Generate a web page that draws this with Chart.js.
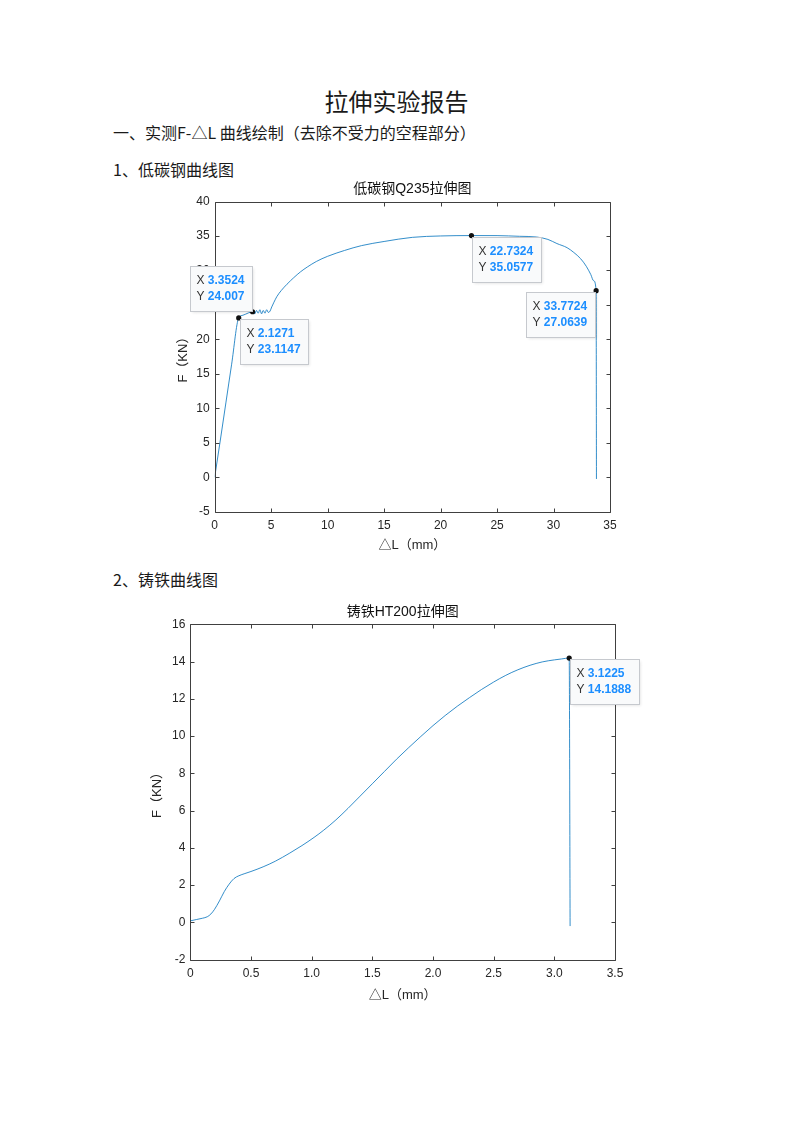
<!DOCTYPE html>
<html>
<head>
<meta charset="utf-8">
<script src="https://cdn.jsdelivr.net/npm/chart.js@4.4.1/dist/chart.umd.min.js"></script>
<style>
  body { margin: 0; background: #fff; }
  #page { position: relative; width: 793px; height: 1122px; font-family: "Noto Sans CJK SC", sans-serif; color: #1a1a1a; }
  .t { position: absolute; white-space: nowrap; }
  canvas { position: absolute; }
</style>
</head>
<body>
<div id="page">
  <div class="t" style="left:0;width:793px;text-align:center;top:86px;font-size:24px;line-height:30px;">拉伸实验报告</div>
  <div class="t" style="left:113px;top:122px;font-size:16px;line-height:20px;">一、实测F-△L 曲线绘制（去除不受力的空程部分）</div>
  <div class="t" style="left:113px;top:159px;font-size:16px;line-height:20px;">1、低碳钢曲线图</div>
  <div class="t" style="left:113px;top:569px;font-size:16px;line-height:20px;">2、铸铁曲线图</div>
  <canvas id="steel" width="490" height="380" style="left:150px;top:178px"></canvas>
  <canvas id="iron" width="515" height="410" style="left:130px;top:598px"></canvas>
</div>
<script>
// 低碳钢 Q235
const steelX = [0, 0.5, 1.0, 1.5, 2.1271, 2.5, 3.0, 3.3524, 3.55, 3.7, 3.85, 4.0, 4.15, 4.3, 4.45, 4.6, 4.75, 4.9,
  5.05, 5.25, 5.5, 5.9, 6.4, 7.0, 7.6, 8.2, 9.0, 10.0, 11.5, 13.0, 15.0, 17.5, 20.0, 22.7324, 25.0, 27.0, 28.5,
  29.5, 30.3, 31.2, 31.8, 32.4, 32.9, 33.3, 33.55, 33.7724, 33.8];
const steelY = [0, 5.4, 10.9, 16.4, 23.1147, 23.5, 23.85, 24.007, 23.7, 24.2, 23.8, 24.3, 23.7, 24.2, 23.8, 24.3, 23.9, 24.1,
  24.7, 25.4, 26.2, 27.1, 28.0, 28.95, 29.8, 30.5, 31.3, 32.05, 32.9, 33.6, 34.2, 34.8, 35.0, 35.0577, 35.05, 34.95, 34.85,
  34.5, 33.9, 33.3, 32.6, 31.7, 30.6, 29.4, 28.5, 27.0639, -0.25];
const steelTipX = [2.1271, 3.3524, 22.7324, 33.7724];
const steelTipY = [23.1147, 24.007, 35.0577, 27.0639];
const steelTipCorner = ['tl', 'br', 'tl', 'tr'];
const steelTicksX = [0, 5, 10, 15, 20, 25, 30, 35];
const steelTicksY = [-5, 0, 5, 10, 15, 20, 25, 30, 35, 40];

// 铸铁 HT200
const ironX = [0, 0.05, 0.1, 0.14, 0.17, 0.2, 0.24, 0.28, 0.32, 0.36, 0.4, 0.45, 0.5, 0.6, 0.7, 0.82, 0.92, 1.02,
  1.1, 1.2, 1.3, 1.4, 1.5, 1.6, 1.7, 1.8, 1.9, 2.0, 2.1, 2.2, 2.3, 2.4, 2.5, 2.6, 2.7, 2.8, 2.9, 3.0, 3.06,
  3.1225, 3.13];
const ironY = [0.08, 0.15, 0.22, 0.3, 0.45, 0.7, 1.15, 1.65, 2.05, 2.35, 2.5, 2.62, 2.73, 2.98, 3.28, 3.72, 4.12, 4.56,
  4.95, 5.5, 6.12, 6.78, 7.44, 8.1, 8.76, 9.38, 9.98, 10.56, 11.1, 11.6, 12.06, 12.5, 12.9, 13.26, 13.56, 13.8, 13.98, 14.09, 14.14,
  14.1888, -0.2];
const ironTipX = [3.1225];
const ironTipY = [14.1888];
const ironTipCorner = ['tl'];
const ironTicksX = [0, 0.5, 1, 1.5, 2, 2.5, 3, 3.5];
const ironTicksY = [-2, 0, 2, 4, 6, 8, 10, 12, 14, 16];

const AXIS = '#262626';
const LATIN = '"Liberation Sans", Arial, sans-serif';
const CJK = '"Liberation Sans", "Noto Sans CJK SC", sans-serif';

// box on, ticks pointing inward on all four sides
const matlabAxes = {
    id: 'matlabAxes',
    afterDraw(chart) {
        const { ctx, chartArea: a, scales: { x, y } } = chart;
        const L = Math.round(a.left) + 0.5, R = Math.round(a.right) + 0.5;
        const T = Math.round(a.top) + 0.5, B = Math.round(a.bottom) + 0.5;
        ctx.save();
        ctx.strokeStyle = '#404040';
        ctx.lineWidth = 1;
        ctx.beginPath();
        ctx.rect(L, T, R - L, B - T);
        x.ticks.forEach(t => {
            const p = Math.round(x.getPixelForValue(t.value)) + 0.5;
            ctx.moveTo(p, B); ctx.lineTo(p, B - 4);
            ctx.moveTo(p, T); ctx.lineTo(p, T + 4);
        });
        y.ticks.forEach(t => {
            const p = Math.round(y.getPixelForValue(t.value)) + 0.5;
            ctx.moveTo(L, p); ctx.lineTo(L + 4, p);
            ctx.moveTo(R, p); ctx.lineTo(R - 4, p);
        });
        ctx.stroke();
        ctx.restore();
    }
};

// MATLAB style data tips
function makeTips(xs, ys, corners) {
    return {
        id: 'tips',
        afterDraw(chart) {
            const { ctx, scales: { x, y } } = chart;
            xs.forEach((vx, i) => {
                const px = x.getPixelForValue(vx), py = y.getPixelForValue(ys[i]);
                const sx = String(vx), sy = String(ys[i]);
                ctx.save();
                ctx.font = '12px ' + LATIN;
                const wl = ctx.measureText('Y ').width;
                ctx.font = 'bold 12px ' + LATIN;
                const wv = Math.max(ctx.measureText(sx).width, ctx.measureText(sy).width);
                const w = Math.round(6 + wl + wv + 8), h = 45;
                const c = corners[i];
                const bx = Math.round(c[1] === 'l' ? px + 1 : px - 1 - w) + 0.5;
                const by = Math.round(c[0] === 't' ? py + 1 : py - 1 - h) + 0.5;
                ctx.shadowColor = 'rgba(0,0,0,0.12)';
                ctx.shadowBlur = 3;
                ctx.shadowOffsetX = 1;
                ctx.shadowOffsetY = 1;
                ctx.fillStyle = '#f9fafb';
                ctx.fillRect(bx, by, w, h);
                ctx.shadowColor = 'transparent';
                ctx.strokeStyle = '#c6c9ce';
                ctx.lineWidth = 1;
                ctx.strokeRect(bx, by, w, h);
                ctx.textBaseline = 'middle';
                ctx.font = '12px ' + LATIN;
                ctx.fillStyle = '#333';
                ctx.fillText('X', bx + 6, by + 14.5);
                ctx.fillText('Y', bx + 6, by + 30.5);
                ctx.font = 'bold 12px ' + LATIN;
                ctx.fillStyle = '#1c8eff';
                ctx.fillText(sx, bx + 6 + wl, by + 14.5);
                ctx.fillText(sy, bx + 6 + wl, by + 30.5);
                ctx.restore();
            });
        }
    };
}

function drawChart(id, cfg) {
    const pts = cfg.xs.map((v, i) => ({ x: v, y: cfg.ys[i] }));
    const tips = cfg.tipX.map((v, i) => ({ x: v, y: cfg.tipY[i] }));
    return new Chart(document.getElementById(id), {
        type: 'line',
        data: {
            datasets: [
                { data: tips, showLine: false, pointRadius: 2.6, pointBackgroundColor: '#111', pointBorderWidth: 0 },
                { data: pts, borderColor: 'rgba(0,114,189,0.8)', borderWidth: 1, pointRadius: 0, cubicInterpolationMode: 'monotone' }
            ]
        },
        options: {
            responsive: false,
            animation: false,
            devicePixelRatio: 1,
            layout: { padding: { left: cfg.padLeft, right: 30, top: 0, bottom: 0 } },
            plugins: {
                legend: { display: false },
                tooltip: { enabled: false },
                title: {
                    display: true,
                    text: cfg.title,
                    fullSize: false,
                    color: '#111',
                    font: { family: CJK, size: 14, weight: 'normal' },
                    padding: cfg.titlePad
                }
            },
            scales: {
                x: {
                    type: 'linear',
                    min: cfg.ticksX[0],
                    max: cfg.ticksX[cfg.ticksX.length - 1],
                    afterBuildTicks: s => { s.ticks = cfg.ticksX.map(v => ({ value: v })); },
                    afterFit: s => { s.height = cfg.xHeight; },
                    grid: { display: false, drawTicks: false },
                    border: { display: false },
                    ticks: { color: AXIS, padding: 7, maxRotation: 0, font: { family: LATIN, size: 12 } },
                    title: { display: true, text: '△L（mm）', color: AXIS, padding: { top: 0, bottom: 5.2 }, font: { family: CJK, size: 13 } }
                },
                y: {
                    type: 'linear',
                    min: cfg.ticksY[0],
                    max: cfg.ticksY[cfg.ticksY.length - 1],
                    afterBuildTicks: s => { s.ticks = cfg.ticksY.map(v => ({ value: v })); },
                    afterFit: s => { s.width = cfg.yWidth; },
                    grid: { display: false, drawTicks: false },
                    border: { display: false },
                    ticks: { color: AXIS, padding: 5, font: { family: LATIN, size: 12 } },
                    title: { display: true, text: 'F（KN）', color: AXIS, padding: { top: cfg.yTitlePad, bottom: 0 }, font: { family: CJK, size: 13 } }
                }
            }
        },
        plugins: [matlabAxes, makeTips(cfg.tipX, cfg.tipY, cfg.corners)]
    });
}

drawChart('steel', {
    xs: steelX, ys: steelY, tipX: steelTipX, tipY: steelTipY, corners: steelTipCorner,
    ticksX: steelTicksX, ticksY: steelTicksY,
    title: '低碳钢Q235拉伸图', titlePad: { top: 2.6, bottom: 4.1 },
    padLeft: 20, yTitlePad: 5.2, yWidth: 44.7, xHeight: 46.3
});

drawChart('iron', {
    xs: ironX, ys: ironY, tipX: ironTipX, tipY: ironTipY, corners: ironTipCorner,
    ticksX: ironTicksX, ticksY: ironTicksY,
    title: '铸铁HT200拉伸图', titlePad: { top: 5.6, bottom: 3.9 },
    padLeft: 15, yTitlePad: 4.2, yWidth: 45.3, xHeight: 48.4
});
</script>
</body>
</html>
